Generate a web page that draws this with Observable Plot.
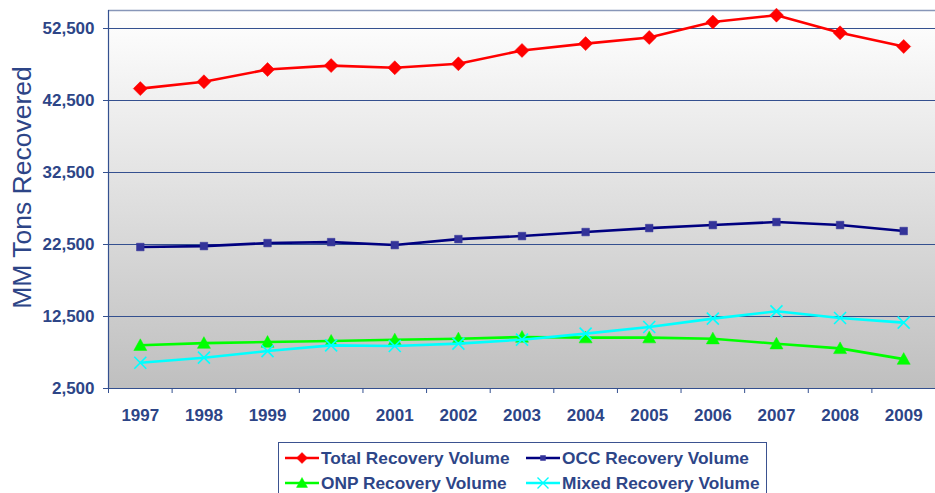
<!DOCTYPE html>
<html><head><meta charset="utf-8">
<script src="https://cdn.jsdelivr.net/npm/d3@7"></script>
<script src="https://cdn.jsdelivr.net/npm/@observablehq/plot@0.6"></script>
<style>
body{margin:0;background:#fff;font-family:"Liberation Sans",Arial,sans-serif;}
#wrap{position:relative;width:935px;height:493px;overflow:hidden;}
#chart{position:absolute;left:0;top:0;}
#legend{position:absolute;left:278px;top:442px;width:489px;height:70px;border:1px solid #3b5290;box-sizing:border-box;background:#fff;}
.item{position:absolute;height:20px;display:flex;align-items:center;font-weight:bold;font-size:17.3px;color:#2d4587;white-space:nowrap;}
.item svg{margin-right:1px;}
</style></head><body><div id="wrap"><div id="chart"></div><div id="legend"></div></div>
<script>
const years = [1997,1998,1999,2000,2001,2002,2003,2004,2005,2006,2007,2008,2009];
const total = [44150,45100,46800,47350,47050,47600,49450,50400,51250,53400,54350,51900,50000];
const occ   = [22150,22280,22700,22830,22420,23250,23670,24230,24780,25200,25620,25200,24370];
const onp   = [8500,8800,8950,9100,9280,9420,9650,9560,9560,9420,8720,8070,6580];
const mixed = [6080,6780,7700,8490,8400,8730,9280,10120,11040,12210,13220,12290,11650];
const yTicks = [2500,12500,22500,32500,42500,52500];
const seriesNames = ["Total Recovery Volume","OCC Recovery Volume","ONP Recovery Volume","Mixed Recovery Volume"];
const lineColors = ["#ff0000","#000080","#00ff00","#00ffff"];
const markerColors = ["#ff0000","#333399","#00ff00","#00ffff"];

const textColor = "#2d4587";
const gridColor = "#34508f";

const diamond = {draw(c,s){const h=Math.sqrt(s/Math.PI);c.moveTo(0,-h);c.lineTo(h,0);c.lineTo(0,h);c.lineTo(-h,0);c.closePath();}};
const square = {draw(c,s){const h=Math.sqrt(s/Math.PI);c.rect(-h,-h,2*h,2*h);}};
const tri = {draw(c,s){const h=Math.sqrt(s/Math.PI);c.moveTo(0,-h);c.lineTo(h,0.8*h);c.lineTo(-h,0.8*h);c.closePath();}};
const xsym = {draw(c,s){const h=Math.sqrt(s/Math.PI);c.moveTo(-h,-h);c.lineTo(h,h);c.moveTo(h,-h);c.lineTo(-h,h);}};
const symbols = [diamond, square, tri, xsym];
const radii = [7, 3.8, 6.5, 6];

const seriesData = [total, occ, onp, mixed];
const rows = seriesData.map((vals, s) => years.map((yr, i) => ({year: yr, value: vals[i], s})));

const edges = years.map(y => y - 0.5).concat([years[years.length-1] + 0.5]);
const xDomain = [edges[0], edges[edges.length-1]];
const yDomain = [2500, 55000];

const marks = [
  Plot.frame({fill: "url(#bgGrad)", stroke: null}),
  Plot.gridY(yTicks, {stroke: gridColor, strokeOpacity: 1, strokeWidth: 1}),
  Plot.ruleY([yDomain[1]], {stroke: "#8796b8", strokeWidth: 1.5}),
  Plot.ruleY([yDomain[0]], {stroke: gridColor, strokeWidth: 1.2}),
  Plot.ruleX([xDomain[0]], {stroke: gridColor, strokeWidth: 1.2}),
  Plot.axisY(yTicks, {tickFormat: d3.format(","), tickSize: 5, tickPadding: 9, stroke: gridColor, fill: textColor, fontSize: 17, fontWeight: "bold", label: null}),
  Plot.axisX(years, {tickSize: 0, tickPadding: 20, tickFormat: d => String(d), fill: textColor, fontSize: 17, fontWeight: "bold", label: null}),
  Plot.axisX(edges, {tickSize: 5, tickFormat: () => "", stroke: gridColor, label: null}),
  Plot.text(["MM Tons Recovered"], {frameAnchor: "left", textAnchor: "middle", rotate: -90, dx: -86, dy: -12, fontSize: 26.5, fill: textColor, text: d => d})
];
rows.forEach((data, s) => {
  marks.push(Plot.line(data, {x: "year", y: "value", stroke: lineColors[s], strokeWidth: 2.6}));
  const filled = s !== 3;
  marks.push(Plot.dot(data, {x: "year", y: "value", symbol: symbols[s], r: radii[s],
    fill: filled ? markerColors[s] : "none", stroke: markerColors[s], strokeWidth: filled ? 0.5 : 1.6}));
});

const plot = Plot.plot({
  width: 935, height: 430,
  marginLeft: 108, marginRight: 0, marginTop: 10, marginBottom: 42,
  style: {fontFamily: '"Liberation Sans", Arial, sans-serif', background: "transparent"},
  x: {domain: xDomain, axis: null},
  y: {domain: yDomain, axis: null},
  marks
});
const svg = d3.select(plot);
const grad = svg.insert("defs", ":first-child").append("linearGradient")
  .attr("id", "bgGrad").attr("x1", 0).attr("y1", 0).attr("x2", 0).attr("y2", 1);
grad.append("stop").attr("offset", "0%").attr("stop-color", "#ffffff");
grad.append("stop").attr("offset", "100%").attr("stop-color", "#bfbfbf");
document.getElementById("chart").appendChild(plot);

// legend
const legend = d3.select("#legend");
const pos = [[5, 5], [246, 5], [5, 30], [246, 30]];
seriesNames.forEach((name, s) => {
  const item = legend.append("div").attr("class", "item").style("left", pos[s][0] + "px").style("top", pos[s][1] + "px");
  const sv = item.append("svg").attr("width", 36).attr("height", 20);
  sv.append("line").attr("x1", 1).attr("x2", 35).attr("y1", 10).attr("y2", 10).attr("stroke", lineColors[s]).attr("stroke-width", 2.6);
  const p = d3.path();
  const r = s === 1 ? 2.5 : 5.5;
  symbols[s].draw(p, r * r * Math.PI);
  const filled = s !== 3;
  sv.append("path").attr("d", p.toString()).attr("transform", "translate(18,10)")
    .attr("fill", filled ? markerColors[s] : "none").attr("stroke", markerColors[s]).attr("stroke-width", filled ? 0.5 : 1.4);
  item.append("span").text(name);
});
</script>
</body></html>
